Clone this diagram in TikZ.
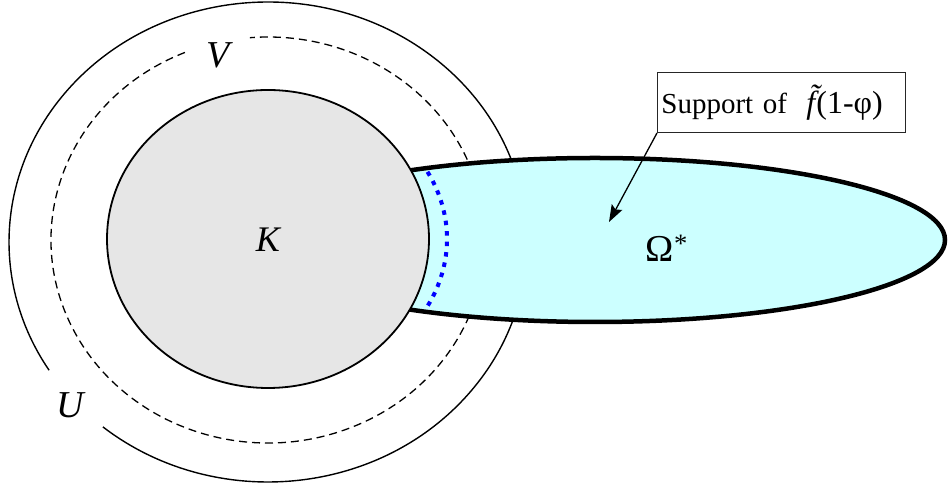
\documentclass[tikz,border=0pt]{standalone}
\usepackage{fontspec}
\setmainfont{Liberation Serif}
\usetikzlibrary{arrows.meta,calc}
\definecolor{kgray}{RGB}{230,230,230}
\definecolor{omcyan}{RGB}{204,255,255}
\tikzset{
  setU/.style={line width=1.4pt},
  setV/.style={line width=1.3pt, dash pattern=on 8pt off 5pt},
  omegareg/.style={fill=omcyan, draw=black, line width=4.5pt},
  kreg/.style={fill=kgray, draw=black, line width=1.8pt},
  cutline/.style={draw=blue, line width=4pt, dash pattern=on 4.5pt off 6pt},
  biglabel/.style={font=\fontsize{38}{40}\selectfont, inner sep=0pt},
  suppbox/.style={draw=black!85, line width=0.9pt, anchor=south west,
    minimum width=248pt, minimum height=60pt, text width=240pt,
    inner xsep=4pt, inner ysep=0pt, align=left, font=\fontsize{29}{32}\selectfont},
  pointer/.style={line width=1.3pt, -{Stealth[length=17pt,width=12pt,inset=3pt]}}
}
\begin{document}
\begin{tikzpicture}[x=1pt,y=1pt]
\useasboundingbox (0,0) rectangle (948,486);
% U (outer) with gap at lower left
\draw[setU] ($(268,244)+(230.4:259 and 240)$) arc[start angle=230.4, end angle=572.3, x radius=259, y radius=240];
% V (dashed) with gap at top
\draw[setV] ($(268,246)+(112.5:217 and 203)$) arc[start angle=112.5, end angle=454.8, x radius=217, y radius=203];
% Omega*
\path[omegareg] (595,246) ellipse[x radius=350, y radius=82];
% K
\path[kreg] (268,247) ellipse[x radius=161, y radius=149];
% blue dotted arc
\draw[cutline] ($(268,247)+(27:179 and 148)$) arc[start angle=27, end angle=-27, x radius=179, y radius=148];
% labels
\node[biglabel, font=\itshape\fontsize{36}{38}\selectfont] (klab) at (268,246) {K};
\node[biglabel, font=\itshape\fontsize{38}{40}\selectfont] (vlab) at (218,431) {V};
\node[biglabel, font=\itshape\fontsize{38}{40}\selectfont] (ulab) at (70,81) {U};
\node[biglabel] (olab) at (667,238) {Ω\textsuperscript{*}};
% support box and arrow
\node[suppbox] (supp) at (657,353) {Support of\ \ {\fontsize{32}{34}\selectfont{\itshape\~{f}}\kern1pt(1-φ)}};
\coordinate (tip) at (609,264);
\draw[pointer] (supp.south west) -- (tip);
\end{tikzpicture}
\end{document}
